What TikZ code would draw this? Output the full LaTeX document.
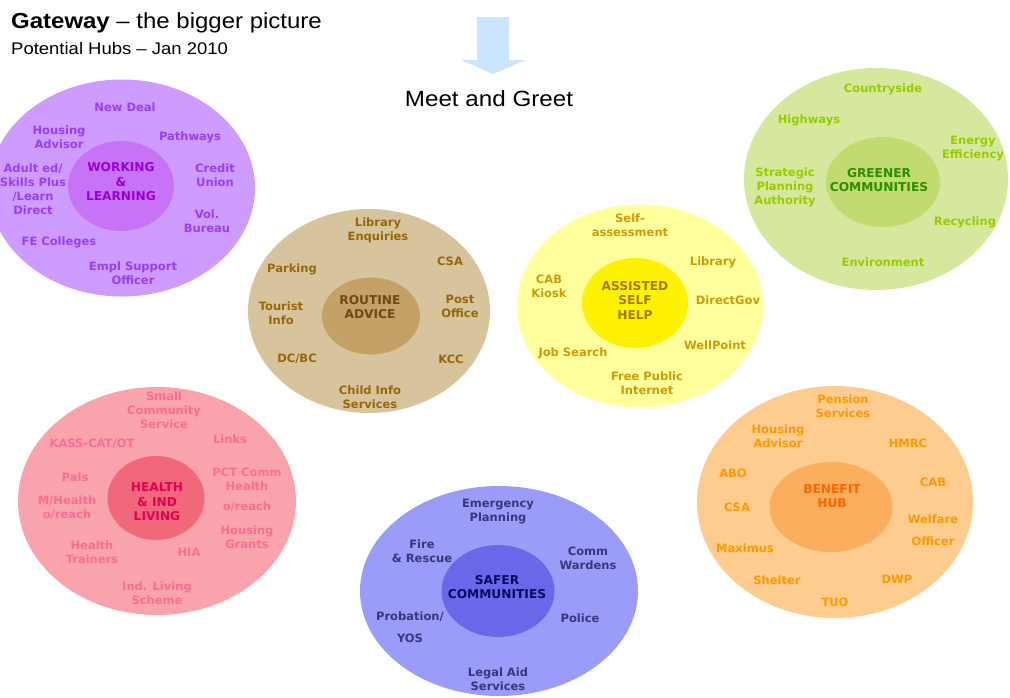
\documentclass[tikz,border=0pt]{standalone}
\usepackage{fontspec}
\setmainfont{Liberation Sans}
\newfontfamily\arialw[FakeStretch=1.1,Ligatures=TeX]{Liberation Sans}
\newfontfamily\verd{DejaVu Sans}
\usetikzlibrary{shapes.geometric}
\definecolor{purO}{RGB}{206,156,255}
\definecolor{purI}{RGB}{200,115,246}
\definecolor{purT}{RGB}{155,60,250}
\definecolor{purC}{RGB}{150,0,220}
\definecolor{tanO}{RGB}{216,196,156}
\definecolor{tanI}{RGB}{196,161,102}
\definecolor{tanT}{RGB}{150,102,10}
\definecolor{tanC}{RGB}{115,72,20}
\definecolor{yelO}{RGB}{255,255,155}
\definecolor{yelI}{RGB}{255,242,0}
\definecolor{yelT}{RGB}{205,155,10}
\definecolor{yelC}{RGB}{165,118,0}
\definecolor{grnO}{RGB}{214,232,158}
\definecolor{grnI}{RGB}{192,220,112}
\definecolor{grnT}{RGB}{150,204,0}
\definecolor{grnC}{RGB}{45,140,0}
\definecolor{pnkO}{RGB}{249,163,172}
\definecolor{pnkI}{RGB}{240,104,122}
\definecolor{pnkT}{RGB}{250,110,150}
\definecolor{pnkC}{RGB}{228,0,82}
\definecolor{bluO}{RGB}{155,155,250}
\definecolor{bluI}{RGB}{104,104,232}
\definecolor{bluT}{RGB}{55,55,125}
\definecolor{bluC}{RGB}{10,10,100}
\definecolor{orgO}{RGB}{253,204,142}
\definecolor{orgI}{RGB}{251,174,94}
\definecolor{orgT}{RGB}{255,153,0}
\definecolor{orgC}{RGB}{255,102,0}
\definecolor{arrowc}{RGB}{204,229,255}
\tikzset{
  hub/.style={ellipse, inner sep=0, draw=none},
  lbl/.style={align=center, font=\verd\bfseries\fontsize{11.5}{14}\selectfont, inner sep=0},
  ctr/.style={align=center, font=\verd\bfseries\fontsize{12.2}{14.5}\selectfont, inner sep=0},
}
\begin{document}
\begin{tikzpicture}[x=1pt,y=-1pt]
\useasboundingbox (0,0) rectangle (1010,697);
\clip (0,0) rectangle (1010,697);
% title
\node[anchor=base west, inner sep=0, font=\arialw\fontsize{21.8}{24}\selectfont] (title) at (11,28) {\textbf{Gateway} – the bigger picture};
\node[anchor=base west, inner sep=0, font=\arialw\fontsize{16.8}{19}\selectfont] (sub) at (11,54) {Potential Hubs – Jan 2010};
\fill[arrowc] (477,17) -- (509,17) -- (509,60) -- (526,60) -- (493,74) -- (461,60) -- (477,60) -- cycle;
\node[anchor=base, inner sep=0, font=\arialw\fontsize{22}{26}\selectfont] (meet) at (489,106) {Meet and Greet};

% Working & Learning
\node[hub, fill=purO, minimum width=266, minimum height=217] (wlO) at (122,188) {};
\node[hub, fill=purI, minimum width=106, minimum height=90] (wlI) at (121,186) {};
\begin{scope}[every node/.style={lbl, text=purT}]
\node (wl1) at (125,107) {New Deal};
\node (wl2) at (59,137) {Housing\\Advisor};
\node (wl3) at (190,137) {Pathways};
\node (wl4) at (33,189) {Adult ed/\\Skills Plus\\/Learn\\Direct};
\node (wl5) at (215,175) {Credit\\Union};
\node (wl6) at (207,221) {Vol.\\Bureau};
\node (wl7) at (59,242) {FE Colleges};
\node (wl8) at (133,273) {Empl Support\\Officer};
\end{scope}
\node[ctr, text=purC] (wlC) at (121,182) {WORKING\\\&\\LEARNING};

% Routine Advice
\node[hub, fill=tanO, minimum width=242, minimum height=204] (raO) at (369,311) {};
\node[hub, fill=tanI, minimum width=98, minimum height=77] (raI) at (371,316) {};
\begin{scope}[every node/.style={lbl, text=tanT}]
\node (ra1) at (378,230) {Library\\Enquiries};
\node (ra2) at (450,261) {CSA};
\node (ra3) at (292,269) {Parking};
\node (ra4) at (281,313) {Tourist\\Info};
\node (ra5) at (460,306) {Post\\Office};
\node (ra6) at (297,359) {DC/BC};
\node (ra7) at (451,359) {KCC};
\node (ra8) at (370,397) {Child Info\\Services};
\end{scope}
\node[ctr, text=tanC] (raC) at (370,307) {ROUTINE\\ADVICE};

% Assisted Self Help
\node[hub, fill=yelO, minimum width=246, minimum height=203] (ahO) at (640,306) {};
\node[hub, fill=yelI, minimum width=106, minimum height=90] (ahI) at (635,303) {};
\begin{scope}[every node/.style={lbl, text=yelT}]
\node (ah1) at (630,225) {Self-\\assessment};
\node (ah2) at (713,262) {Library};
\node (ah3) at (549,286) {CAB\\Kiosk};
\node (ah4) at (728,300) {DirectGov};
\node (ah5) at (715,345) {WellPoint};
\node (ah6) at (573,353) {Job Search};
\node (ah7) at (647,383) {Free Public\\Internet};
\end{scope}
\node[ctr, text=yelC] (ahC) at (635,300) {ASSISTED\\SELF\\HELP};

% Greener Communities
\node[hub, fill=grnO, minimum width=264, minimum height=222] (gcO) at (876,179) {};
\node[hub, fill=grnI, minimum width=114, minimum height=90] (gcI) at (883,182) {};
\begin{scope}[every node/.style={lbl, text=grnT}]
\node (gc1) at (883,89) {Countryside};
\node (gc2) at (809,120) {Highways};
\node (gc3) at (973,149) {Energy\\Efficiency};
\node (gc4) at (785,187) {Strategic\\Planning\\Authority};
\node (gc5) at (965,222) {Recycling};
\node (gc6) at (883,262) {Environment};
\end{scope}
\node[ctr, text=grnC] (gcC) at (879,180) {GREENER\\COMMUNITIES};

% Health & Ind Living
\node[hub, fill=pnkO, minimum width=278, minimum height=228] (hlO) at (157,501) {};
\node[hub, fill=pnkI, minimum width=97, minimum height=84] (hlI) at (156,498) {};
\begin{scope}[every node/.style={lbl, text=pnkT}]
\node (hl1) at (164,410) {Small\\Community\\Service};
\node (hl2) at (230,439) {Links};
\node (hl3) at (92,444) {KASS-CAT/OT};
\node (hl4) at (75,477) {Pals};
\node (hl5) at (247,479) {PCT Comm\\Health};
\node (hl6) at (67,508) {M/Health\\o/reach};
\node (hl7) at (247,507) {o/reach};
\node (hl8) at (247,537) {Housing\\Grants};
\node (hl9) at (92,552) {Health\\Trainers};
\node (hl10) at (189,552) {HIA};
\node (hl11) at (157,593) {Ind. Living\\Scheme};
\end{scope}
\node[ctr, text=pnkC] (hlC) at (157,502) {HEALTH\\\& IND\\LIVING};

% Safer Communities
\node[hub, fill=bluO, minimum width=278, minimum height=210] (scO) at (499,591) {};
\node[hub, fill=bluI, minimum width=113, minimum height=92] (scI) at (498,591) {};
\begin{scope}[every node/.style={lbl, text=bluT}]
\node (sc1) at (498,512) {Emergency\\Planning};
\node (sc2) at (422,551) {Fire\\\& Rescue};
\node (sc3) at (588,558) {Comm\\Wardens};
\node (sc4) at (410,617) {Probation/};
\node (sc5) at (580,618) {Police};
\node (sc6) at (410,638) {YOS};
\node (sc7) at (498,679) {Legal Aid\\Services};
\end{scope}
\node[ctr, text=bluC] (scC) at (497,587) {SAFER\\COMMUNITIES};

% Benefit Hub
\node[hub, fill=orgO, minimum width=276, minimum height=232] (bhO) at (835,502) {};
\node[hub, fill=orgI, minimum width=123, minimum height=90] (bhI) at (831,507) {};
\begin{scope}[every node/.style={lbl, text=orgT}]
\node (bh1) at (843,406) {Pension\\Services};
\node (bh2) at (778,436) {Housing\\Advisor};
\node (bh3) at (908,443) {HMRC};
\node (bh4) at (733,473) {ABO};
\node (bh5) at (933,482) {CAB};
\node (bh6) at (737,507) {CSA};
\node (bh7) at (933,519) {Welfare};
\node (bh8) at (933,541) {Officer};
\node (bh9) at (745,548) {Maximus};
\node (bh10) at (777,580) {Shelter};
\node (bh11) at (897,579) {DWP};
\node (bh12) at (835,602) {TUO};
\end{scope}
\node[ctr, text=orgC] (bhC) at (832,496) {BENEFIT\\HUB};
\end{tikzpicture}
\end{document}
